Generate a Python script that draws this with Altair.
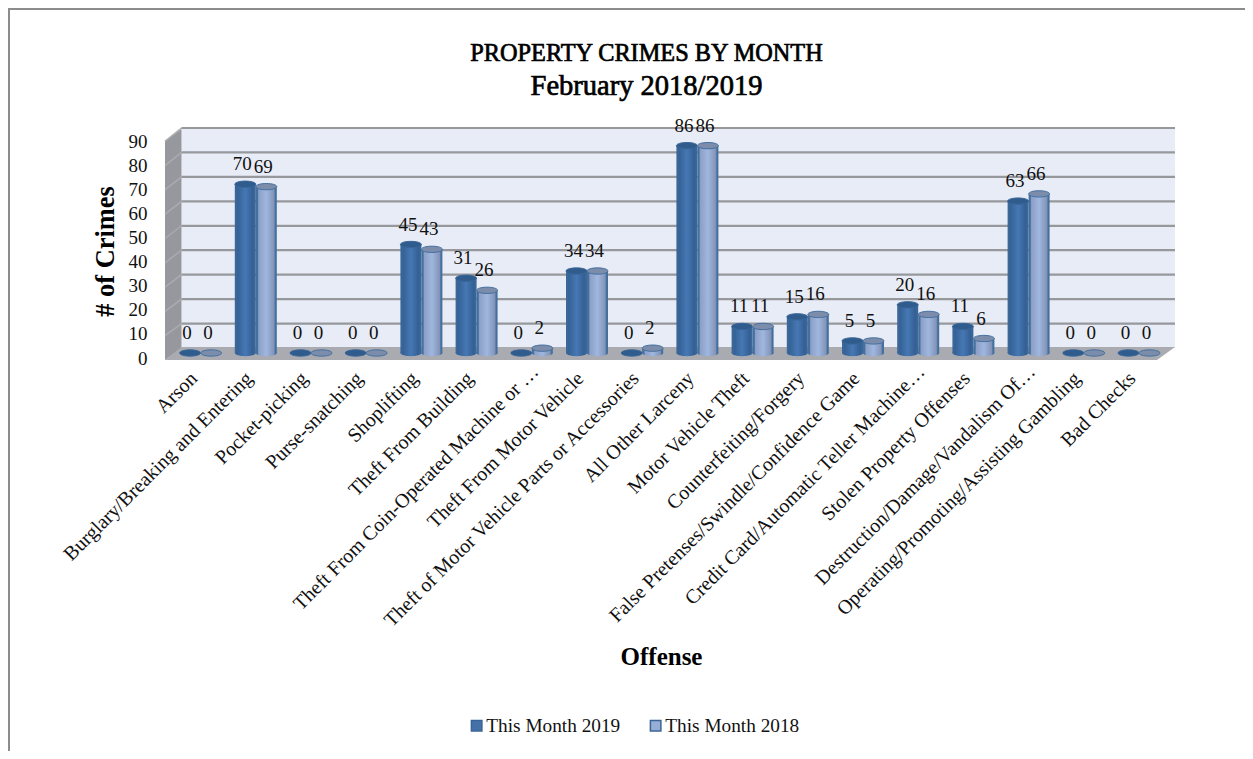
import altair as alt
import pandas as pd

categories = ["Arson", "Burglary/Breaking and Entering", "Pocket-picking", "Purse-snatching",
              "Shoplifting", "Theft From Building", "Theft From Coin-Operated Machine or …",
              "Theft From Motor Vehicle", "Theft of Motor Vehicle Parts or Accessories",
              "All Other Larceny", "Motor Vehicle Theft", "Counterfeiting/Forgery",
              "False Pretenses/Swindle/Confidence Game", "Credit Card/Automatic Teller Machine…",
              "Stolen Property Offenses", "Destruction/Damage/Vandalism Of…",
              "Operating/Promoting/Assisting Gambling", "Bad Checks"]
values_2019 = [0, 70, 0, 0, 45, 31, 0, 34, 0, 86, 11, 15, 5, 20, 11, 63, 0, 0]
values_2018 = [0, 69, 0, 0, 43, 26, 2, 34, 2, 86, 11, 16, 5, 16, 6, 66, 0, 0]
series_names = ["This Month 2019", "This Month 2018"]
title_lines = ["PROPERTY CRIMES BY MONTH", "February 2018/2019"]
ticks = list(range(0, 100, 10))

FONT = "Liberation Serif"
OX, OY = 173.0, 136.0      # plot origin on the page
W, H = 993.6, 217.0
TOTAL_W, TOTAL_H = 1237, 743
TRUNCATED = "indexof(datum.value, '…') >= 0"


def px(v):
    return v - OX


def py(v):
    return v - OY


df_2019 = pd.DataFrame({"cat": categories, "v": values_2019})
df_2018 = pd.DataFrame({"cat": categories, "v": values_2018})
df_leg = pd.DataFrame({"cat": categories[:2], "v": [0, 0], "s": series_names})

band = alt.Scale(domain=categories, paddingInner=0, paddingOuter=0, round=False)
x_enc = alt.X("cat:N", scale=band, axis=None)
y_enc = alt.Y("v:Q", scale=alt.Scale(domain=[0, 90], nice=False), axis=None)

x_axis = alt.X("cat:N", sort=categories, scale=band,
               axis=alt.Axis(title="Offense", labelAngle=-45, labelAlign="right", labelBaseline="middle",
                             labelFont=FONT, labelFontSize=20, labelColor="#111",
                             labelOffset={"condition": {"test": TRUNCATED, "value": 3}, "value": -7},
                             labelPadding={"condition": {"test": TRUNCATED, "value": 15}, "value": 22},
                             labelLimit=500, labelOverlap=False, labelBound=False,
                             domain=False, ticks=False, grid=False,
                             titleFont=FONT, titleFontSize=25, titleFontWeight="bold", titleColor="#000",
                             titleX=px(661), titleY=656 - OY - H, titleAlign="center", titleBaseline="middle"))
y_axis = alt.Y("v:Q", scale=alt.Scale(domain=[0, 90], nice=False),
               axis=alt.Axis(title="# of Crimes", values=ticks, labelFont=FONT, labelFontSize=19,
                             labelColor="#111", labelOffset=5, labelPadding=26, domain=False, ticks=False,
                             grid=False, titleFont=FONT, titleFontSize=26.4, titleFontWeight="bold",
                             titleColor="#000", titleX=px(105), titleY=py(251), titleAlign="center",
                             titleBaseline="middle"))


def pxenc(name):
    return alt.X(name + ":Q", scale=None, axis=None)


def pyenc(name):
    return alt.Y(name + ":Q", scale=None, axis=None)


# chart frame
frame = alt.Chart(pd.DataFrame({"x": [px(9), px(9), px(1253)], "y": [py(759), py(9), py(9)], "o": [0, 1, 2]})
                  ).mark_line(color="#8c8c8c", strokeWidth=2, clip=False).encode(
    x=pxenc("x"), y=pyenc("y"), order="o:Q")


# chart title, two lines of real text
def title_line(text, y, size):
    return alt.Chart(pd.DataFrame({"t": [text], "x": [px(646.5)], "y": [py(y)]})).mark_text(
        font=FONT, fontSize=size, color="#000", stroke="#000", strokeWidth=0.7, baseline="middle",
        align="center").encode(x=pxenc("x"), y=pyenc("y"), text="t:N")


title1 = title_line(title_lines[0], 54, 24.3)
title2 = title_line(title_lines[1], 86, 28.5)

# back wall
wall = alt.Chart(pd.DataFrame({"x": [px(181.5)], "x2": [px(1175)], "y": [py(128)], "y2": [py(348)]})
                 ).mark_rect(color="#e8ecf6").encode(
    x=pxenc("x"), x2="x2:Q", y=pyenc("y"), y2="y2:Q")

# side wall
side = alt.Chart(pd.DataFrame({"x": [px(165), px(181.5)], "y": [py(141), py(129)], "y2": [py(360), py(348)]})
                 ).mark_area(color="#96989d", orient="vertical").encode(
    x=pxenc("x"), y=pyenc("y"), y2="y2:Q")

# floor
floor = alt.Chart(pd.DataFrame({"y": [py(347), py(360)], "x": [px(181.5), px(165)], "x2": [px(1175), px(1157)]})
                  ).mark_area(color="#a9abb0", orient="horizontal").encode(
    y=pyenc("y"), x=pxenc("x"), x2="x2:Q")

# gridlines on the back wall and on the side wall
step = (348 - 128) / 9
grid_df = pd.DataFrame({"x": [px(181.5)] * 9, "x2": [px(1175)] * 9,
                        "y": [py(348 - step * (i + 1)) for i in range(9)]})
grid = alt.Chart(grid_df).mark_rule(color="#96989c", strokeWidth=2.2).encode(
    x=pxenc("x"), x2="x2:Q", y=pyenc("y"))
side_df = pd.DataFrame({"x": [px(165)] * 9, "x2": [px(181.5)] * 9,
                        "y": [py(360 - 24.3 * (i + 1)) for i in range(9)],
                        "y2": [py(348 - step * (i + 1)) for i in range(9)]})
side_grid = alt.Chart(side_df).mark_rule(color="#a9abb0", strokeWidth=1.5).encode(
    x=pxenc("x"), x2="x2:Q", y=pyenc("y"), y2="y2:Q")

ELLIPSE = "M-1,0 A1,0.3 0 1 1 1,0 A1,0.3 0 1 1 -1,0 Z"
BW = 21.0


def gradient(edge, mid, line, far):
    return alt.Gradient(gradient="linear", x1=0, x2=1, y1=0, y2=0,
                        stops=[alt.GradientStop(offset=0, color=line),
                               alt.GradientStop(offset=0.08, color=line),
                               alt.GradientStop(offset=0.14, color=edge),
                               alt.GradientStop(offset=0.5, color=mid),
                               alt.GradientStop(offset=0.86, color=far),
                               alt.GradientStop(offset=0.93, color=line),
                               alt.GradientStop(offset=1, color=line)])


def cylinder(df, dx, edge, mid, line, far, cap):
    base = alt.Chart(df)
    fill = gradient(edge, mid, line, far)
    bottom = base.transform_filter("datum.v > 0").transform_calculate(zero="0").mark_point(
        shape=ELLIPSE, size=BW ** 2, filled=True, fill=fill, opacity=1, xOffset=dx).encode(
        x=x_enc, y=alt.Y("zero:Q", scale=alt.Scale(domain=[0, 90], nice=False), axis=None))
    body = base.transform_filter("datum.v > 0").mark_bar(size=BW, fill=fill, xOffset=dx).encode(
        x=x_enc, y=y_enc, y2=alt.datum(0))
    top = base.mark_point(shape=ELLIPSE, size=BW ** 2, filled=True, fill=cap, stroke=line,
                          strokeWidth=1, opacity=1, xOffset=dx).encode(x=x_enc, y=y_enc)
    label = base.mark_text(font=FONT, fontSize=19, color="#111", baseline="middle", align="center",
                           xOffset=dx - 3, yOffset=-20).encode(x=x_enc, y=y_enc, text="v:Q")
    return [bottom, body, top], label


c19, t19 = cylinder(df_2019, -10.5, "#356297", "#4778b4", "#3a6698", "#335f94", "#2f5b8d")
c18, t18 = cylinder(df_2018, 10.5, "#8d9fc6", "#9fb7df", "#43709f", "#8494b8", "#7c8cab")

# real axes
axes = alt.Chart(df_2019).mark_point(opacity=0).encode(x=x_axis, y=y_axis)

legend = alt.Chart(df_leg).mark_point(opacity=0, filled=True).encode(
    x=x_enc, y=y_enc,
    color=alt.Color("s:N", scale=alt.Scale(domain=series_names, range=["#4472a8", "#96aed6"]),
                    legend=alt.Legend(title=None, orient="none", direction="horizontal",
                                      legendX=px(467), legendY=py(716), symbolType="square", symbolSize=110,
                                      symbolOpacity=1, symbolStrokeColor="#3b6496", symbolStrokeWidth=1.5,
                                      labelFont=FONT, labelFontSize=19.3, labelColor="#111", columnPadding=25,
                                      labelOffset=0)))

chart = alt.layer(
    frame, title1, title2, wall, side, floor, side_grid, grid, axes, *c19, *c18, t19, t18, legend
).resolve_scale(x="independent", y="independent").properties(
    width=W, height=H,
    padding={"left": OX - 8, "top": OY - 8, "right": TOTAL_W - (OX - 8) - W, "bottom": TOTAL_H - (OY - 8) - H},
    autosize=alt.AutoSizeParams(type="none", contains="content"),
).configure_view(stroke=None)

chart.save("out.html", embed_options={"renderer": "svg", "actions": False})
